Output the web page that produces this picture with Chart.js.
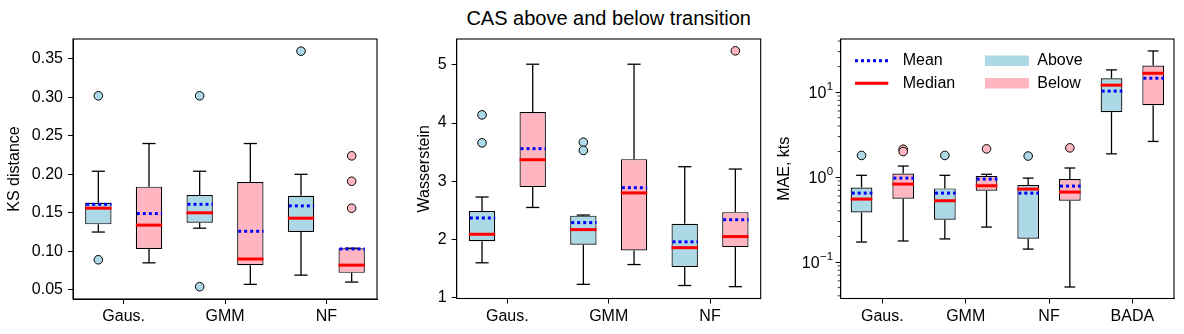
<!DOCTYPE html>
<html>
<head>
<meta charset="utf-8">
<script src="https://cdn.jsdelivr.net/npm/chart.js@4.4.0/dist/chart.umd.min.js"></script>
<style>
  body { margin: 0; background: #fff; width: 1184px; height: 334px; position: relative; overflow: hidden; }
  .panel { position: absolute; top: 0; height: 334px; }
  #title { position: absolute; left: 408.7px; width: 400px; top: 8px; text-align: center;
           font: 20px/20px "Liberation Sans", Arial, sans-serif; color: #000; }
</style>
</head>
<body>
<div id="title">CAS above and below transition</div>
<div class="panel" style="left:0px;width:390px"><canvas id="ks"></canvas></div>
<div class="panel" style="left:410px;width:370px"><canvas id="ws"></canvas></div>
<div class="panel" style="left:770px;width:414px"><canvas id="mae"></canvas></div>
<script>
// each row: [whisker low, q1, median, q3, whisker high, mean]
const ksCats = ['Gaus.', 'GMM', 'NF'];
const ksTicks = [0.05, 0.10, 0.15, 0.20, 0.25, 0.30, 0.35];
const ksAbove = [
  [0.125, 0.135, 0.156, 0.163, 0.204, 0.161],
  [0.130, 0.137, 0.150, 0.173, 0.204, 0.161],
  [0.069, 0.125, 0.143, 0.172, 0.200, 0.159]
];
const ksBelow = [
  [0.085, 0.103, 0.134, 0.184, 0.240, 0.149],
  [0.057, 0.082, 0.090, 0.190, 0.240, 0.126],
  [0.060, 0.072, 0.082, 0.104, 0.104, 0.103]
];
const ksAboveOut = [[0.302, 0.089], [0.302, 0.054], [0.360]];
const ksBelowOut = [[], [], [0.224, 0.191, 0.156]];

const wsCats = ['Gaus.', 'GMM', 'NF'];
const wsTicks = [1, 2, 3, 4, 5];
const wsAbove = [
  [1.60, 1.97, 2.09, 2.49, 2.73, 2.37],
  [1.23, 1.91, 2.17, 2.41, 2.42, 2.29],
  [1.21, 1.53, 1.86, 2.27, 3.25, 1.96]
];
const wsBelow = [
  [2.55, 2.90, 3.37, 4.19, 5.01, 3.56],
  [1.57, 1.81, 2.80, 3.38, 5.01, 2.89],
  [1.19, 1.87, 2.05, 2.47, 3.21, 2.34]
];
const wsAboveOut = [[4.14, 3.66], [3.67, 3.53], []];
const wsBelowOut = [[], [], [5.24]];

const maeCats = ['Gaus.', 'GMM', 'NF', 'BADA'];
const maeTicks = [0.1, 1, 10];
const maeAbove = [
  [0.172, 0.384, 0.551, 0.756, 1.05, 0.648],
  [0.187, 0.315, 0.527, 0.736, 1.05, 0.648],
  [0.142, 0.188, 0.723, 0.805, 0.973, 0.648],
  [1.88, 5.82, 12.1, 14.6, 18.3, 10.3]
];
const maeBelow = [
  [0.177, 0.556, 0.828, 1.10, 1.35, 0.973],
  [0.258, 0.690, 0.791, 1.03, 1.08, 0.947],
  [0.0508, 0.527, 0.667, 0.947, 1.28, 0.784],
  [2.63, 7.03, 16.7, 20.6, 30.6, 14.6]
];
const maeAboveOut = [[1.80], [1.80], [1.77], []];
const maeBelowOut = [[2.13, 2.0], [2.15], [2.21], []];

const FONT = "'Liberation Sans', Arial, sans-serif";
const aboveColor = '#ADD8E6';
const belowColor = '#FFB6C1';
Chart.defaults.font.family = FONT;
Chart.defaults.font.size = 16;
Chart.defaults.color = '#000';

function line(ctx, x1, y1, x2, y2) {
  ctx.beginPath(); ctx.moveTo(x1, y1); ctx.lineTo(x2, y2); ctx.stroke();
}

// whiskers, median, mean and fliers drawn on top of the floating bars
const boxExtras = {
  id: 'boxExtras',
  afterDatasetsDraw(chart) {
    const ctx = chart.ctx, y = chart.scales.y;
    chart.data.datasets.forEach((ds, di) => {
      chart.getDatasetMeta(di).data.forEach((bar, i) => {
        const s = ds.stats[i];
        const x = bar.x, half = bar.width / 2, cap = half / 2;
        ctx.save();
        ctx.strokeStyle = '#000';
        ctx.lineWidth = 1.3;
        line(ctx, x, y.getPixelForValue(s[3]), x, y.getPixelForValue(s[4]));
        line(ctx, x, y.getPixelForValue(s[1]), x, y.getPixelForValue(s[0]));
        line(ctx, x - cap, y.getPixelForValue(s[4]), x + cap, y.getPixelForValue(s[4]));
        line(ctx, x - cap, y.getPixelForValue(s[0]), x + cap, y.getPixelForValue(s[0]));
        ctx.strokeStyle = '#f00';
        ctx.lineWidth = 3;
        line(ctx, x - half, y.getPixelForValue(s[2]), x + half, y.getPixelForValue(s[2]));
        ctx.strokeStyle = '#00f';
        ctx.setLineDash([3, 3]);
        line(ctx, x - half + 1, y.getPixelForValue(s[5]), x + half, y.getPixelForValue(s[5]));
        ctx.setLineDash([]);
        ctx.lineWidth = 1;
        ctx.strokeStyle = '#000';
        ctx.fillStyle = ds.backgroundColor;
        ds.outliers[i].forEach(v => {
          ctx.beginPath();
          ctx.arc(x, y.getPixelForValue(v), 4.3, 0, Math.PI * 2);
          ctx.fill(); ctx.stroke();
        });
        ctx.restore();
      });
    });
  },
  afterDraw(chart) {
    const a = chart.chartArea, ctx = chart.ctx;
    ctx.save();
    ctx.strokeStyle = '#000';
    ctx.lineWidth = 1.1;
    ctx.strokeRect(a.left, a.top, a.right - a.left, a.bottom - a.top);
    ctx.restore();
  }
};

// log axis: 10^k labels and minor ticks
const logAxis = {
  id: 'logAxis',
  afterDraw(chart) {
    const y = chart.scales.y, ctx = chart.ctx, left = chart.chartArea.left;
    ctx.save();
    ctx.strokeStyle = '#000';
    ctx.lineWidth = 0.8;
    for (let k = -2; k <= 1; k++) {
      for (let m = 2; m <= 9; m++) {
        const v = m * Math.pow(10, k);
        if (v < y.min || v > y.max) continue;
        const py = y.getPixelForValue(v);
        line(ctx, left - 3, py, left, py);
      }
    }
    ctx.fillStyle = '#000';
    ctx.textBaseline = 'alphabetic';
    ctx.textAlign = 'right';
    maeTicks.forEach(v => {
      const py = y.getPixelForValue(v);
      const k = Math.round(Math.log10(v));
      const exp = k < 0 ? '\u2212' + (-k) : String(k);
      const xr = left - 7.5;
      const base = py + 5.7;
      ctx.font = '11.5px ' + FONT;
      const ew = ctx.measureText(exp).width;
      ctx.fillText(exp, xr, base - 7.5);
      ctx.font = '16px ' + FONT;
      ctx.fillText('10', xr - ew - 0.5, base);
    });
    ctx.restore();
  }
};

const maeLegend = {
  id: 'maeLegend',
  afterDraw(chart) {
    const ctx = chart.ctx;
    ctx.save();
    ctx.lineWidth = 3;
    ctx.strokeStyle = '#00f';
    ctx.setLineDash([3, 3]);
    line(ctx, 85, 60.7, 118.3, 60.7);
    ctx.setLineDash([]);
    ctx.strokeStyle = '#f00';
    line(ctx, 85, 83.3, 118.3, 83.3);
    ctx.fillStyle = aboveColor;
    ctx.fillRect(215, 55.5, 44, 10.5);
    ctx.fillStyle = belowColor;
    ctx.fillRect(215, 78, 44, 10.5);
    ctx.fillStyle = '#000';
    ctx.font = '16px ' + FONT;
    ctx.textBaseline = 'middle';
    ctx.fillText('Mean', 132.7, 61);
    ctx.fillText('Median', 132.7, 84);
    ctx.fillText('Above', 267.3, 61);
    ctx.fillText('Below', 267.3, 84);
    ctx.restore();
  }
};

function boxChart(id, cats, above, below, aboveOut, belowOut, ycfg, frame, extraPlugins) {
  const canvas = document.getElementById(id);
  const ctx = canvas.getContext('2d');
  const yScale = {
    type: ycfg.type,
    min: ycfg.min,
    max: ycfg.max,
    afterBuildTicks: s => { s.ticks = ycfg.ticks.map(v => ({ value: v })); },
    afterFit: s => { s.width = frame.left; },
    ticks: { padding: 5, callback: ycfg.label, autoSkip: false },
    grid: { drawOnChartArea: false, color: '#000', tickLength: 5, tickWidth: 1 },
    border: { color: '#000' },
    title: { display: true, text: ycfg.title, padding: { top: 4.5, bottom: 0 }, font: { size: 16 } }
  };
  return new Chart(ctx, {
    type: 'bar',
    data: {
      labels: cats,
      datasets: [
        { label: 'Above', data: above.map(r => [r[1], r[3]]), stats: above, outliers: aboveOut,
          backgroundColor: aboveColor, borderColor: '#000', borderWidth: 1.2, borderSkipped: false,
          categoryPercentage: 1.0, barPercentage: 0.52 },
        { label: 'Below', data: below.map(r => [r[1], r[3]]), stats: below, outliers: belowOut,
          backgroundColor: belowColor, borderColor: '#000', borderWidth: 1.2, borderSkipped: false,
          categoryPercentage: 1.0, barPercentage: 0.52 }
      ]
    },
    options: {
      responsive: true,
      maintainAspectRatio: false,
      animation: false,
      layout: { padding: { top: frame.top, right: frame.right, left: 0, bottom: 0 } },
      plugins: { legend: { display: false }, tooltip: { enabled: false } },
      scales: {
        x: {
          offset: true,
          afterFit: s => { s.height = 334 - frame.bottom; },
          ticks: { padding: 3 },
          grid: { offset: false, drawOnChartArea: false, color: '#000', tickLength: 5, tickWidth: 1 },
          border: { color: '#000' }
        },
        y: yScale
      }
    },
    plugins: [boxExtras].concat(extraPlugins || [])
  });
}

boxChart('ks', ksCats, ksAbove, ksBelow, ksAboveOut, ksBelowOut,
  { type: 'linear', min: 0.038, max: 0.3758, ticks: ksTicks, title: 'KS distance',
    label: v => v.toFixed(2) },
  { left: 73, right: 390 - 377, top: 39, bottom: 299 });

boxChart('ws', wsCats, wsAbove, wsBelow, wsAboveOut, wsBelowOut,
  { type: 'linear', min: 0.987, max: 5.443, ticks: wsTicks, title: 'Wasserstein',
    label: v => String(v) },
  { left: 456.7 - 410, right: 370 - (760.7 - 410), top: 39, bottom: 298.5 });

boxChart('mae', maeCats, maeAbove, maeBelow, maeAboveOut, maeBelowOut,
  { type: 'logarithmic', min: 0.0372, max: 42.3, ticks: maeTicks, title: 'MAE, kts',
    label: () => '' },
  { left: 840.7 - 770, right: 414 - (1174 - 770), top: 39, bottom: 298.5 },
  [logAxis, maeLegend]);
</script>
</body>
</html>
